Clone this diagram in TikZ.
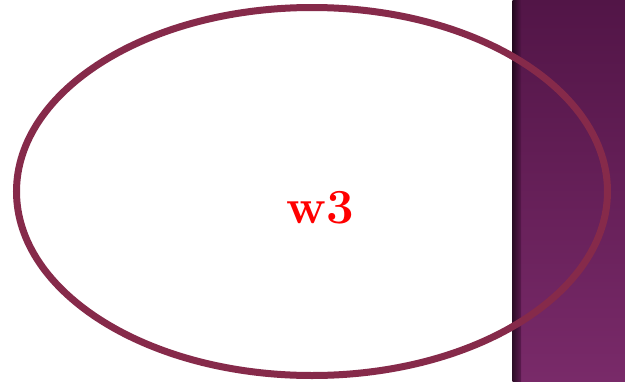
\documentclass[tikz,border=0pt]{standalone}
\usetikzlibrary{shapes.geometric}
\begin{document}
\begin{tikzpicture}[x=1pt,y=-1pt]
\definecolor{ringc}{RGB}{134,42,74}
\definecolor{ptop}{RGB}{82,21,71}
\definecolor{pbot}{RGB}{121,42,105}
\definecolor{textred}{RGB}{255,0,0}
\tikzset{ring/.style={draw=ringc,line width=7pt},
  lbl/.style={text=textred,font=\fontsize{49}{54}\selectfont\bfseries}}
\useasboundingbox (0,0) rectangle (625,381);
\fill[white] (0,0) rectangle (625,381);
\shade[top color=ptop,bottom color=pbot] (512.5,0) rectangle (625,381);
\shade[left color=black!80!ptop,right color=ptop,opacity=0.7] (512.5,0) rectangle (521,381);
\node[ring,ellipse,minimum width=591pt,minimum height=368pt,inner sep=0pt] (e) at (312,191.5) {};
\node[lbl] (w) at (320.5,208) {w3};
\end{tikzpicture}
\end{document}
